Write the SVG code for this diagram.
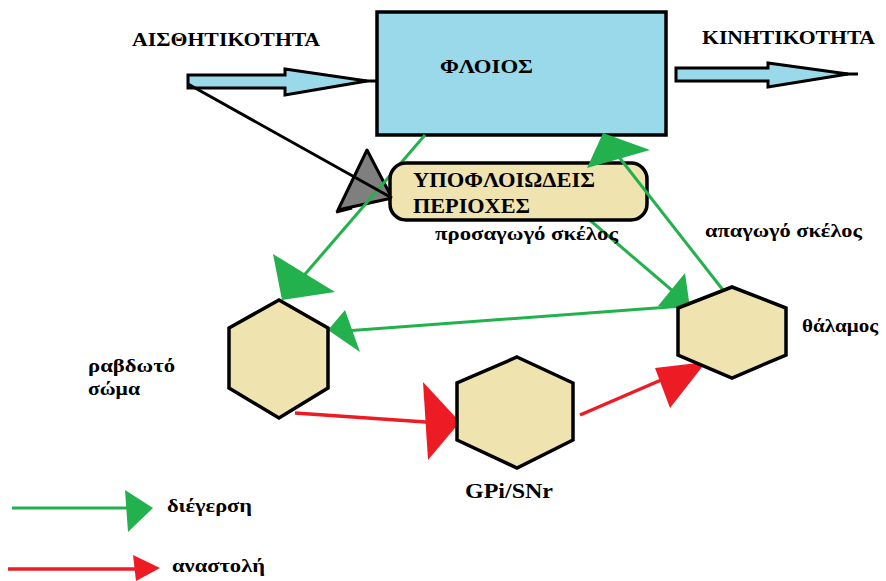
<svg xmlns="http://www.w3.org/2000/svg" width="886" height="581" viewBox="0 0 886 581">
  <style>
    text { font-family: 'Liberation Serif', 'Times New Roman', serif; font-weight: 700; fill: #000; }
    .hex { fill: #efe4b0; stroke: #000; stroke-width: 3.5; stroke-linejoin: miter; }
    .exc { stroke: #22b14c; stroke-width: 3; fill: none; }
    .exh { fill: #22b14c; }
    .inh { stroke: #ed1c24; stroke-width: 3.5; fill: none; }
    .inhh { fill: #ed1c24; }
    .big { fill: #99d9ea; stroke: #000; stroke-width: 3; stroke-linejoin: miter; }
  </style>
  <rect width="886" height="581" fill="#fff"/>

  <!-- input / output arrows -->
  <g id="sensory">
    <text x="132" y="46" font-size="19" textLength="188" lengthAdjust="spacingAndGlyphs">ΑΙΣΘΗΤΙΚΟΤΗΤΑ</text>
    <polygon class="big" points="188,75 285,75 285,69 367,81 285,95 285,88 188,88"/>
    <line x1="365" y1="81" x2="378" y2="81" stroke="#000" stroke-width="3"/>
  </g>
  <g id="motor">
    <text x="702" y="44" font-size="19" textLength="173" lengthAdjust="spacingAndGlyphs">ΚΙΝΗΤΙΚΟΤΗΤΑ</text>
    <polygon class="big" points="676,68 768,68 768,63 848,74 768,87 768,81 676,81"/>
    <line x1="840" y1="74" x2="858" y2="74" stroke="#000" stroke-width="3"/>
  </g>

  <!-- cortex -->
  <g id="cortex">
    <rect x="377" y="12" width="289" height="123" fill="#99d9ea" stroke="#000" stroke-width="3.5"/>
    <text x="440" y="73" font-size="18" textLength="93" lengthAdjust="spacingAndGlyphs">ΦΛΟΙΟΣ</text>
  </g>

  <!-- gray arrowhead of the sensory branch -->
  <polygon points="367,150 392,198 338,210" fill="#7f7f7f" stroke="#000" stroke-width="3" stroke-linejoin="round"/>

  <g id="connectors-under">
    <!-- cortex -> striatum -->
    <line class="exc" x1="425" y1="135" x2="300" y2="280"/>
    <polygon class="exh" points="273,254 335,292 282,300"/>
    <!-- subcortical -> thalamus -->
    <line class="exc" x1="585" y1="216" x2="688" y2="304"/>
    <polygon class="exh" points="685,273 690,308 658,306"/>
  </g>

  <!-- subcortical regions -->
  <g id="subcortical">
    <rect x="390" y="163" width="257" height="57" rx="16" ry="16" fill="#efe4b0" stroke="#000" stroke-width="3.5"/>
    <text x="413" y="187" font-size="20" textLength="182" lengthAdjust="spacingAndGlyphs">ΥΠΟΦΛΟΙΩΔΕΙΣ</text>
    <text x="413" y="213" font-size="20" textLength="117" lengthAdjust="spacingAndGlyphs">ΠΕΡΙΟΧΕΣ</text>
  </g>

  <g id="connectors">
    <!-- sensory branch to subcortical -->
    <line x1="188" y1="84" x2="392" y2="198" stroke="#000" stroke-width="3"/>
    <line x1="336" y1="212" x2="352" y2="208" stroke="#000" stroke-width="3"/>
    <!-- thalamus -> cortex -->
    <line class="exc" x1="723" y1="290" x2="615" y2="152"/>
    <polygon class="exh" points="603,133 650,150 587,168"/>
    <!-- thalamus -> striatum -->
    <line class="exc" x1="683" y1="306" x2="345" y2="331"/>
    <polygon class="exh" points="345,310 328,330 360,352"/>
    <!-- striatum -> GPi/SNr (inhibitory) -->
    <line class="inh" x1="295" y1="413" x2="440" y2="423"/>
    <polygon class="inhh" points="423,382 460,422 428,460"/>
    <!-- GPi/SNr -> thalamus (inhibitory) -->
    <line class="inh" x1="580" y1="415" x2="675" y2="374"/>
    <polygon class="inhh" points="655,368 706,362 670,408"/>
  </g>

  <!-- basal ganglia nuclei -->
  <g id="striatum">
    <polygon class="hex" points="279,300 328,328 328,388 279,418 229,388 229,328"/>
    <text x="88" y="372" font-size="19" textLength="87" lengthAdjust="spacingAndGlyphs">ραβδωτό</text>
    <text x="88" y="395" font-size="19" textLength="52" lengthAdjust="spacingAndGlyphs">σώμα</text>
  </g>
  <g id="gpi-snr">
    <polygon class="hex" points="517,357 573,383 573,440 517,468 457,440 457,383"/>
    <text x="465" y="498" font-size="20" textLength="88" lengthAdjust="spacingAndGlyphs">GPi/SNr</text>
  </g>
  <g id="thalamus">
    <polygon class="hex" points="732,287 786,308 786,355 732,378 678,355 678,308"/>
    <text x="802" y="332" font-size="19" textLength="76" lengthAdjust="spacingAndGlyphs">θάλαμος</text>
  </g>

  <!-- pathway labels -->
  <text x="435" y="240" font-size="19" textLength="183" lengthAdjust="spacingAndGlyphs">προσαγωγό σκέλος</text>
  <text x="705" y="237" font-size="19" textLength="157" lengthAdjust="spacingAndGlyphs">απαγωγό σκέλος</text>

  <!-- legend -->
  <g id="legend">
    <line class="exc" x1="12" y1="508" x2="130" y2="508"/>
    <polygon class="exh" points="125,490 153,508 128,532"/>
    <text x="167" y="512" font-size="19" textLength="85" lengthAdjust="spacingAndGlyphs">διέγερση</text>
    <line class="inh" x1="8" y1="569" x2="140" y2="569"/>
    <polygon class="inhh" points="133,555 160,568 136,581"/>
    <text x="172" y="572" font-size="19" textLength="93" lengthAdjust="spacingAndGlyphs">αναστολή</text>
  </g>
</svg>
